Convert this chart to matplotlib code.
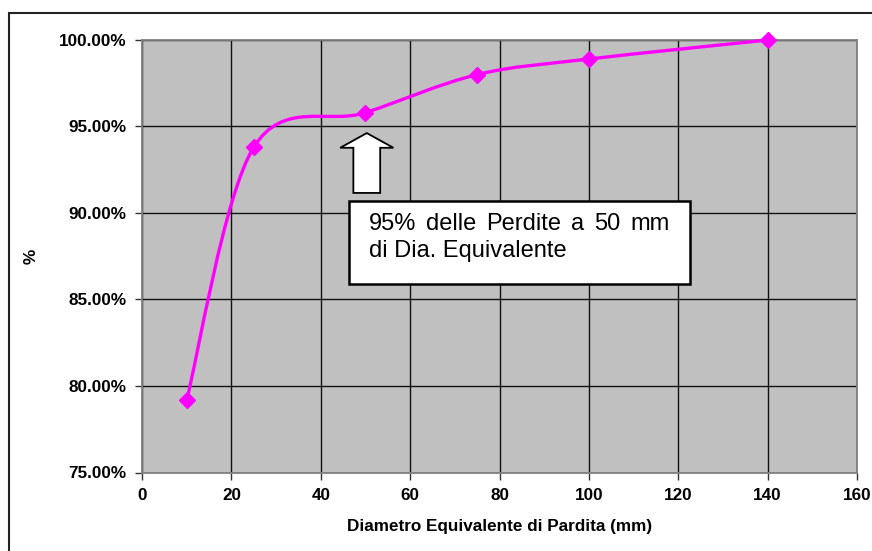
import numpy as np
import matplotlib.pyplot as plt
from matplotlib.path import Path
from matplotlib.patches import PathPatch, Rectangle
from matplotlib.ticker import FuncFormatter, MultipleLocator

# data
diam = [10, 25, 50, 75, 100, 140]
perc = [79.2, 93.8, 95.8, 98.0, 98.9, 100.0]

xlabel = 'Diametro Equivalente di Pardita (mm)'
ylabel = '%'
note_lines = ['95% delle Perdite a 50 mm', 'di Dia. Equivalente']

plt.rcParams['font.family'] = ['Liberation Sans', 'DejaVu Sans']

fig = plt.figure(figsize=(8.72, 5.51), dpi=100)
ax = fig.add_axes([142/872, 1-472.5/551, 715/872, 432.5/551])
ax.set_facecolor('#C0C0C0')

# outer chart border (Excel chart area)
fig.patches.append(Rectangle((9/872, -0.2), 1.2, 1.2 - 13/551, transform=fig.transFigure,
                             fill=False, ec='#222222', lw=1.5, zorder=0))

# smoothed line like Excel (Catmull-Rom style bezier)
pts = np.column_stack([diam, perc]).astype(float)
ext = np.vstack([pts[0], pts, pts[-1]])
verts = [pts[0]]
codes = [Path.MOVETO]
for i in range(len(pts) - 1):
    p0, p1, p2, p3 = ext[i], ext[i+1], ext[i+2], ext[i+3]
    verts += [p1 + (p2 - p0)/6, p2 - (p3 - p1)/6, p2]
    codes += [Path.CURVE4]*3
ax.add_patch(PathPatch(Path(verts, codes), fill=False, ec='#FF00FF', lw=2.4,
                       capstyle='round', joinstyle='round', zorder=3, clip_on=False))
ax.plot(diam, perc, ls='none', marker='D', ms=8.5, color='#FF00FF', zorder=4, clip_on=False)

ax.set_xlim(0, 160)
ax.set_ylim(75, 100)
ax.xaxis.set_major_locator(MultipleLocator(20))
ax.yaxis.set_major_locator(MultipleLocator(5))
ax.yaxis.set_major_formatter(FuncFormatter(lambda v, p: '%.2f%%' % v))
ax.grid(True, color='#111111', lw=1.0)
ax.set_axisbelow(True)
for s in ax.spines.values():
    s.set_color('#808080')
    s.set_linewidth(1.3)
ax.tick_params(length=5, width=1, color='#333333', labelsize=12.3, pad=6)
for lab in ax.get_xticklabels() + ax.get_yticklabels():
    lab.set_fontweight('bold')
ax.set_xlabel(xlabel, fontsize=12.3, fontweight='bold', labelpad=12)
ax.set_ylabel(ylabel, fontsize=12.3, fontweight='bold', labelpad=15)

# hollow arrow pointing at the 50 mm point
ax.arrow(diam[2] + 0.3, 91.16, 0, 3.46, width=6, head_width=11.9, head_length=0.85,
         length_includes_head=True, fc='white', ec='black', lw=1.3, zorder=5)

# note box
ax.add_patch(Rectangle((46.3, 85.9), 76.4, 4.81, fc='white', ec='black', lw=1.8, zorder=5))

fig.canvas.draw()
r = fig.canvas.get_renderer()
x0, x1 = 50.8, 118.1
# first line justified across the box
words = note_lines[0].split()
ts = [ax.text(0, 89.04, w, fontsize=17, ha='left', va='baseline', zorder=6) for w in words]
inv = ax.transData.inverted()
widths = []
for t in ts:
    bb = t.get_window_extent(r)
    widths.append(inv.transform((bb.x1, 0))[0] - inv.transform((bb.x0, 0))[0])
gap = (x1 - x0 - sum(widths)) / (len(words) - 1)
pos = x0
for t, w in zip(ts, widths):
    t.set_x(pos)
    pos += w + gap
ax.text(x0, 87.45, note_lines[1], fontsize=17, ha='left', va='baseline', zorder=6)

fig.savefig('out.png', dpi=100)
